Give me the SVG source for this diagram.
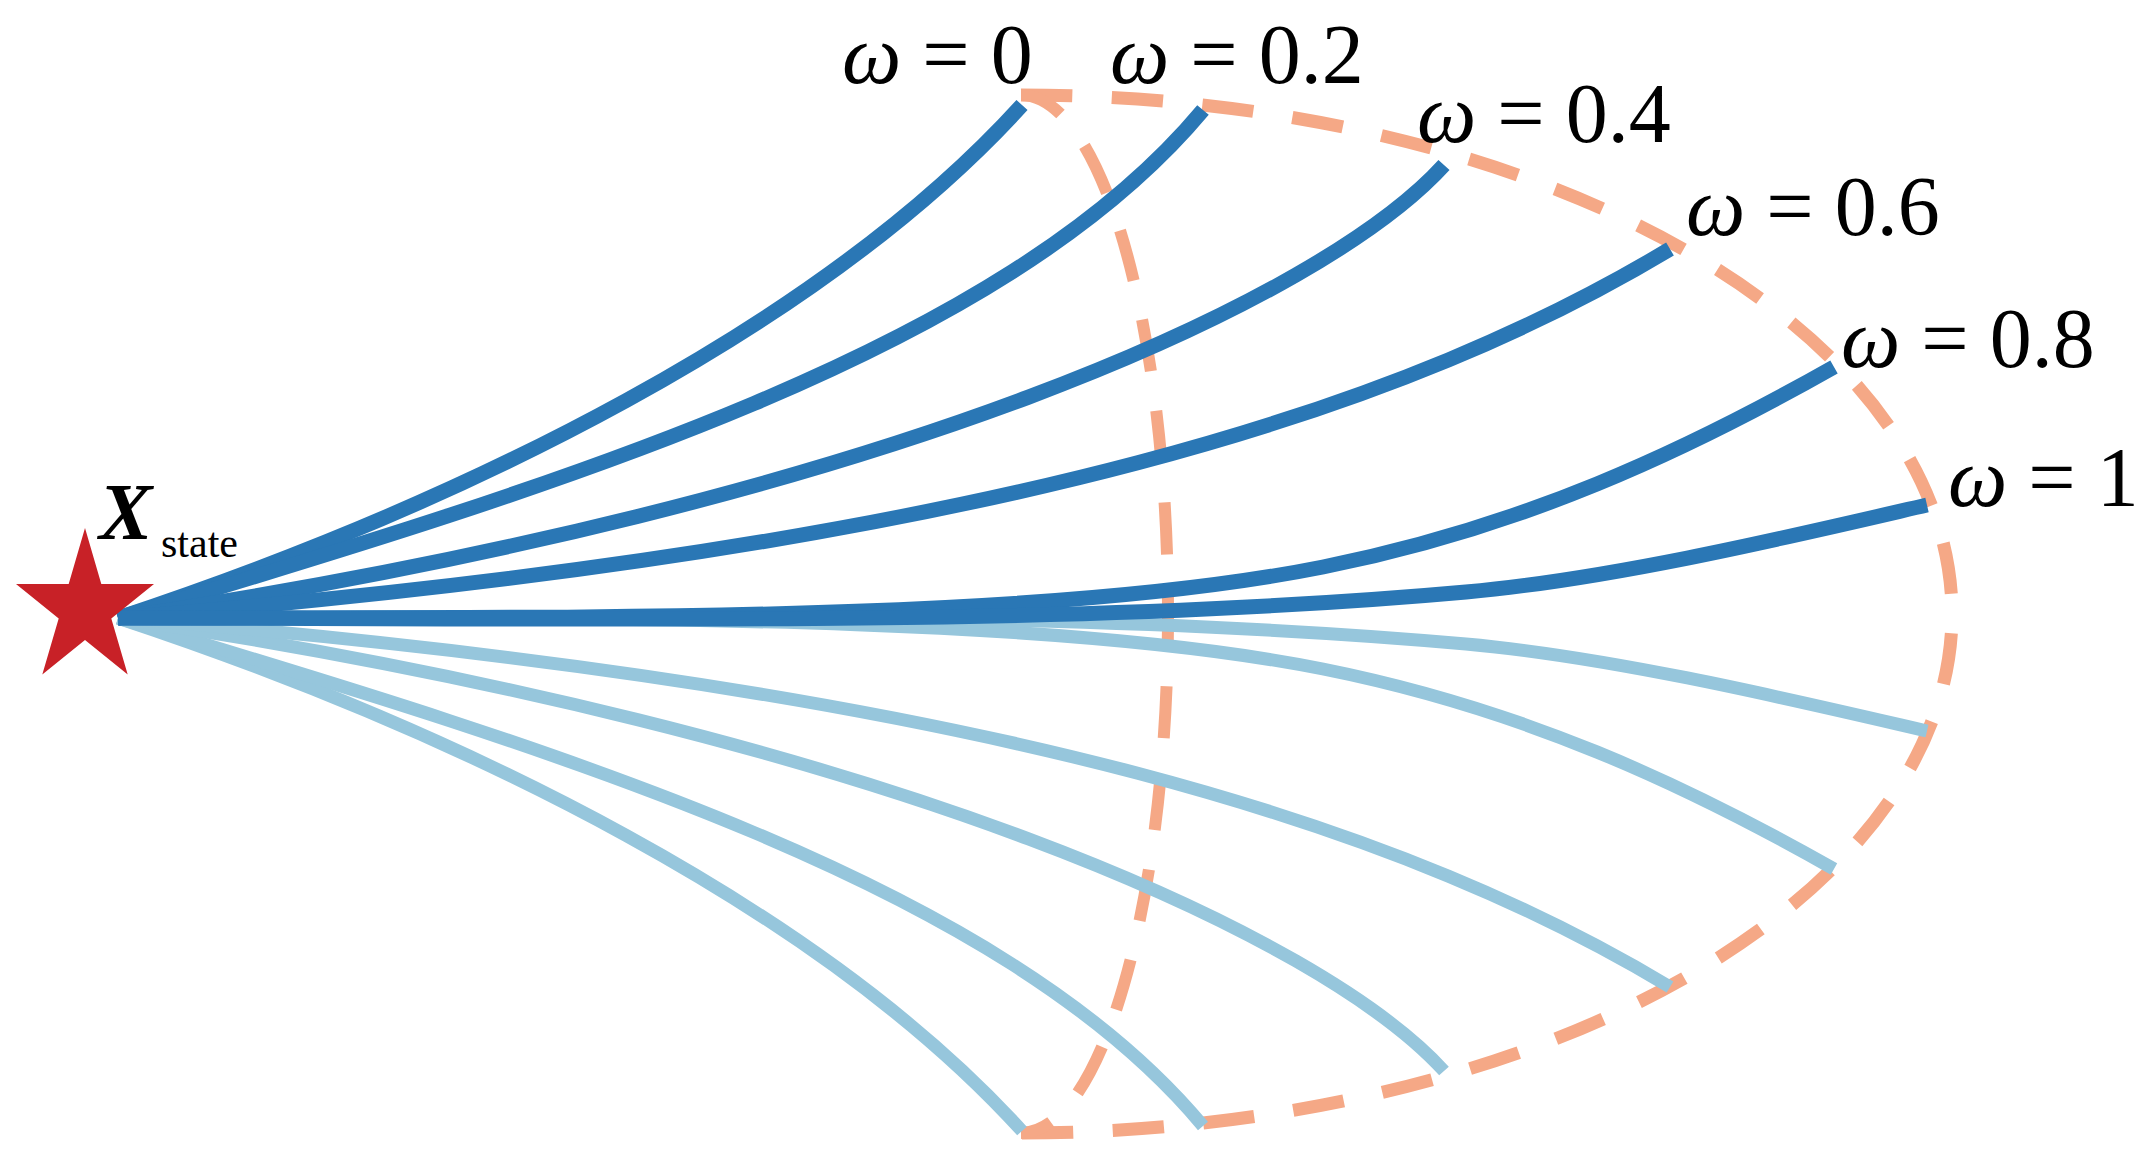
<svg xmlns="http://www.w3.org/2000/svg" width="2144" height="1163" viewBox="0 0 2144 1163">
<style>
.dark{fill:none;stroke:#2a77b5;stroke-width:15;stroke-linecap:butt;stroke-linejoin:round}
.light{fill:none;stroke:#96c6dc;stroke-width:13;stroke-linecap:butt;stroke-linejoin:round}
.dash{fill:none;stroke:#f5a886;stroke-linecap:butt}
.lbl{font-family:"Liberation Serif","Times New Roman",serif;font-size:84px;fill:#000}
.om{font-style:italic}
</style>
<rect width="2144" height="1163" fill="#fff"/>
<g id="connectors">
<g id="envelope">
<path class="dash" stroke-width="13" pathLength="1000" stroke-dasharray="22.1 17" d="M1021,95 A931,519 0 0 1 1952,614 A931,519 0 0 1 1021,1133"/>
<path class="dash" stroke-width="12" stroke-dasharray="52 40" stroke-dashoffset="7" d="M1021,95 A147,519 0 0 1 1168,614 A147,519 0 0 1 1021,1133"/>
</g>
<g id="lower-trajectories" transform="matrix(1 0 0 -1 0 1236)">
<path class="light" d="M118,618 C468,502 822,325 1022,105"/>
<path class="light" d="M118,618 C568,483 1003,350 1203,110"/>
<path class="light" d="M118,618 C898,501 1324,297 1444,165"/>
<path class="light" d="M118,618 C1018,546 1420,399 1670,249"/>
<path class="light" d="M118,618 C518,616 1023,627 1323,567 C1523,527 1684,452 1834,367"/>
<path class="light" d="M118,618 C600,618 1066,628 1466,592 C1616,578.5 1797,535 1927,505"/>
</g>
<g id="upper-trajectories">
<path class="dark" d="M118,618 C468,502 822,325 1022,105"/>
<path class="dark" d="M118,618 C568,483 1003,350 1203,110"/>
<path class="dark" d="M118,618 C898,501 1324,297 1444,165"/>
<path class="dark" d="M118,618 C1018,546 1420,399 1670,249"/>
<path class="dark" d="M118,618 C518,616 1023,627 1323,567 C1523,527 1684,452 1834,367"/>
<path class="dark" d="M118,618 C600,618 1066,628 1466,592 C1616,578.5 1797,535 1927,505"/>
</g>
</g>
<g id="start-node">
<polygon fill="#c82127" points="85,528 101.3,584 154,584 111.3,618.5 127.7,674.5 85,640 42.3,674.5 58.7,618.5 16,584 68.7,584"/>
<text class="lbl" x="99" y="539" style="font-size:80px;font-weight:bold;font-style:italic">X</text>
<text class="lbl" x="161" y="557" style="font-size:42px">state</text>
</g>
<g id="label-w0"><text class="lbl" x="842" y="83"><tspan class="om">ω</tspan> = 0</text></g>
<g id="label-w02"><text class="lbl" x="1110" y="83"><tspan class="om">ω</tspan> = 0.2</text></g>
<g id="label-w04"><text class="lbl" x="1417" y="142"><tspan class="om">ω</tspan> = 0.4</text></g>
<g id="label-w06"><text class="lbl" x="1686" y="235"><tspan class="om">ω</tspan> = 0.6</text></g>
<g id="label-w08"><text class="lbl" x="1841" y="367"><tspan class="om">ω</tspan> = 0.8</text></g>
<g id="label-w1"><text class="lbl" x="1948" y="506"><tspan class="om">ω</tspan> = 1</text></g>
</svg>
